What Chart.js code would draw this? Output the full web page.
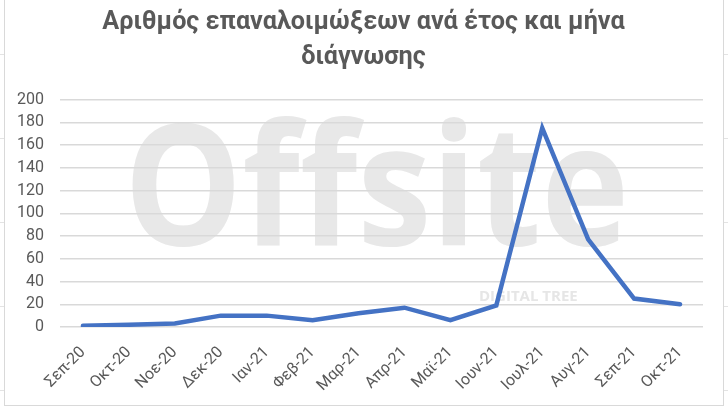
<!DOCTYPE html>
<html>
<head>
<meta charset="utf-8">
<script src="https://cdn.jsdelivr.net/npm/chart.js@4"></script>
<style>
  html, body { margin: 0; padding: 0; }
  body {
    width: 728px; height: 414px; position: relative; overflow: hidden;
    background: #fff;
    background-image: repeating-linear-gradient(to bottom, transparent 0, transparent 54px, #e3e3e3 54px, #e3e3e3 55px, transparent 55px, transparent 83.9px);
  }
  #frame {
    position: absolute; left: 4px; top: -2px; width: 718px; height: 406px;
    background: #fff; border: 1px solid #d9d9d9;
  }
  #chart { position: absolute; left: 0; top: 0; }
</style>
</head>
<body>
<div id="frame"></div>
<canvas id="chart" width="728" height="414"></canvas>
<script>
const categories = ['Σεπ-20', 'Οκτ-20', 'Νοε-20', 'Δεκ-20', 'Ιαν-21', 'Φεβ-21', 'Μαρ-21',
  'Απρ-21', 'Μαϊ-21', 'Ιουν-21', 'Ιουλ-21', 'Αυγ-21', 'Σεπ-21', 'Οκτ-21'];
const reinfections = [1, 2, 3, 10, 10, 6, 12, 17, 6, 19, 175, 77, 25, 20];
const titleLines = ['Αριθμός επαναλοιμώξεων ανά έτος και μήνα', 'διάγνωσης'];
const yMax = 200;
const yStep = 20;

const textColor = '#595959';

// faint watermark behind the grid
const watermark = {
  id: 'watermark',
  afterLayout(chart) {
    // centre the title on the frame, like the original
    if (chart.titleBlock) {
      chart.titleBlock.left = 4;
      chart.titleBlock.right = 723;
    }
  },
  beforeDraw(chart) {
    const ctx = chart.ctx;
    ctx.save();
    ctx.fillStyle = '#e8e8e8';
    ctx.textAlign = 'left';
    ctx.textBaseline = 'alphabetic';
    ctx.translate(124, 245);
    ctx.scale(0.885, 1);
    ctx.font = 'bold 168px "Open Sans"';
    ctx.fillText('Offsite', 0, 0);
    ctx.restore();
    ctx.save();
    ctx.fillStyle = '#e6e6e6';
    ctx.font = 'bold 15px "Open Sans"';
    ctx.fillText('DIGITAL TREE', 479, 301);
    ctx.restore();
  }
};

const ctx = document.getElementById('chart').getContext('2d');
new Chart(ctx, {
  type: 'line',
  data: {
    labels: categories,
    datasets: [{
      label: 'Επαναλοιμώξεις',
      data: reinfections,
      borderColor: '#4472C4',
      borderWidth: 4.5,
      pointRadius: 0,
      tension: 0,
      borderCapStyle: 'round'
    }]
  },
  options: {
    responsive: false,
    animation: false,
    layout: { padding: { left: 0, right: 25, top: 0, bottom: 0 } },
    plugins: {
      legend: { display: false },
      tooltip: { enabled: false },
      title: {
        display: true,
        text: titleLines,
        color: textColor,
        font: { family: 'Roboto', size: 25.2, weight: 'bold', lineHeight: 1.4 },
        padding: { top: 5, bottom: 24 }
      }
    },
    scales: {
      x: {
        offset: true,
        grid: { display: false, drawTicks: false },
        border: { display: false },
        ticks: {
          color: textColor,
          font: { family: 'Roboto', size: 16 },
          minRotation: 45,
          maxRotation: 45,
          padding: 16
        },
        afterFit(scale) { scale.height = 87; }
      },
      y: {
        min: 0,
        max: yMax,
        ticks: {
          stepSize: yStep,
          color: textColor,
          font: { family: 'Roboto', size: 16 },
          padding: 16
        },
        grid: { color: '#d9d9d9', lineWidth: 1.5, drawTicks: false },
        border: { display: false },
        afterFit(scale) { scale.width = 60; }
      }
    }
  },
  plugins: [watermark]
});
</script>
</body>
</html>
